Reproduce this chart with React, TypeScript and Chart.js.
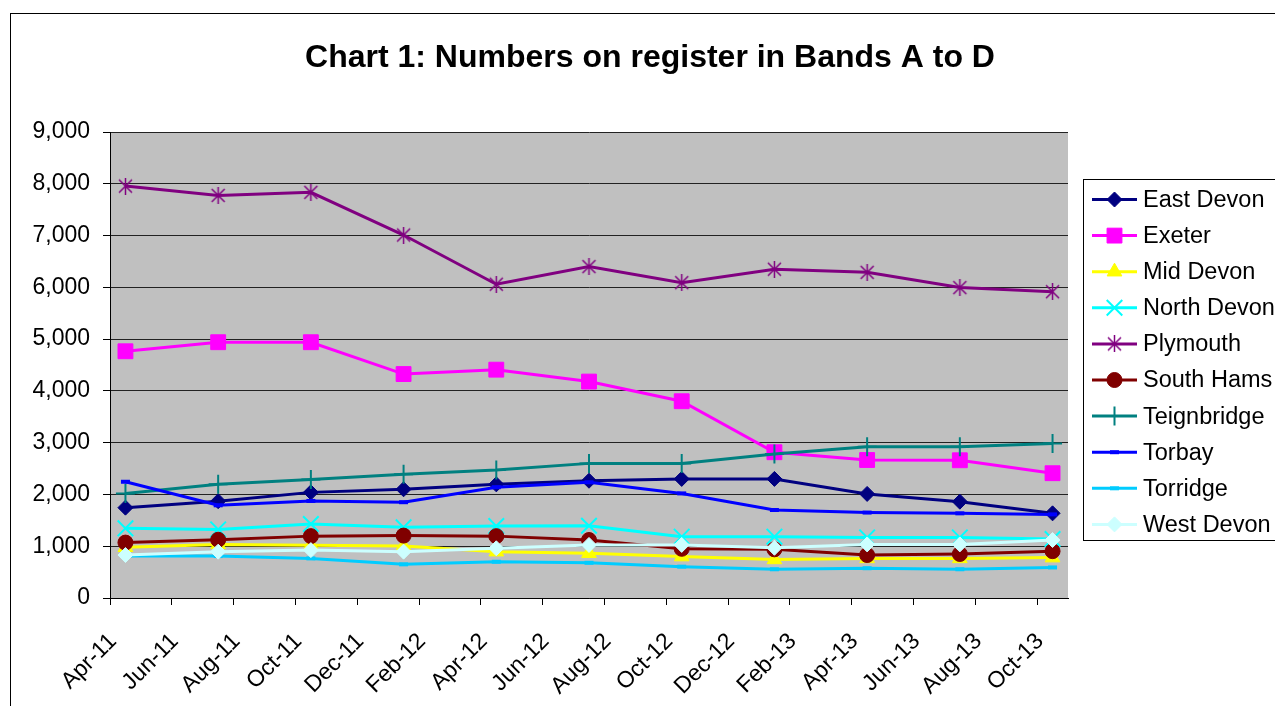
import React, { useEffect, useRef } from 'react';
import { Chart, registerables } from 'chart.js';
import { drawPoint } from 'chart.js/helpers';

Chart.register(...registerables);

// ---- data ----
const chartTitle = 'Chart 1: Numbers on register in Bands A to D';
const periods = ['Apr-11', 'Jul-11', 'Oct-11', 'Jan-12', 'Apr-12', 'Jul-12', 'Oct-12', 'Jan-13', 'Apr-13', 'Jul-13', 'Oct-13'];
const tickLabels = ['Apr-11', 'Jun-11', 'Aug-11', 'Oct-11', 'Dec-11', 'Feb-12', 'Apr-12', 'Jun-12', 'Aug-12', 'Oct-12', 'Dec-12', 'Feb-13', 'Apr-13', 'Jun-13', 'Aug-13', 'Oct-13'];
const seriesNames = ['East Devon', 'Exeter', 'Mid Devon', 'North Devon', 'Plymouth', 'South Hams', 'Teignbridge', 'Torbay', 'Torridge', 'West Devon'];
const eastDevon = [1745, 1870, 2040, 2100, 2195, 2265, 2300, 2300, 2010, 1860, 1635];
const exeter = [4765, 4940, 4940, 4325, 4410, 4180, 3800, 2815, 2665, 2660, 2410];
const midDevon = [980, 1035, 1020, 1005, 895, 865, 800, 745, 765, 765, 780];
const northDevon = [1345, 1325, 1430, 1365, 1390, 1395, 1185, 1185, 1170, 1170, 1140];
const plymouth = [7955, 7775, 7835, 7010, 6060, 6400, 6090, 6350, 6290, 5995, 5915];
const southHams = [1070, 1125, 1195, 1205, 1195, 1120, 950, 940, 830, 850, 905];
const teignbridge = [2020, 2195, 2290, 2390, 2470, 2600, 2600, 2780, 2920, 2920, 2985];
const torbay = [2245, 1790, 1875, 1850, 2140, 2235, 2020, 1700, 1650, 1635, 1615];
const torridge = [810, 810, 765, 650, 700, 680, 605, 555, 575, 555, 590];
const westDevon = [830, 895, 925, 895, 960, 1025, 1025, 970, 1035, 1035, 1120];
const seriesValues = [eastDevon, exeter, midDevon, northDevon, plymouth, southHams, teignbridge, torbay, torridge, westDevon];
const yMax = 9000;
const yStep = 1000;

// ---- styles ----
const FONT = "'Liberation Sans', Arial, sans-serif";
const colors = ['#000080', '#FF00FF', '#FFFF00', '#00FFFF', '#800080', '#800000', '#008080', '#0000FF', '#00CCFF', '#CCFFFF'];
const markerStyles = ['rectRot', 'rect', 'triangle', 'crossRot', 'star6', 'circle', 'cross', 'line', 'line', 'rectRot'];
const markerRadius = [7.5, 10.5, 8.5, 11, 8, 7.5, 9.5, 4.5, 4.5, 7.5];
const markerBorder = [1, 1, 1, 2, 1.5, 1, 2, 4, 4, 1];

const MONTHS = ['Jan', 'Feb', 'Mar', 'Apr', 'May', 'Jun', 'Jul', 'Aug', 'Sep', 'Oct', 'Nov', 'Dec'];
const monthIndex = (label: string) => {
  const [m, y] = label.split('-');
  return (2000 + Number(y) - 2011) * 12 + MONTHS.indexOf(m) - 3;
};
const tickValues = tickLabels.map(monthIndex);
const pointX = periods.map((p) => monthIndex(p) + 0.5);
const xMax = monthIndex(periods[periods.length - 1]) + 1;

function makeStar(color: string) {
  const c = document.createElement('canvas');
  c.width = 17;
  c.height = 17;
  const ctx = c.getContext('2d')!;
  ctx.strokeStyle = color;
  ctx.lineWidth = 1.5;
  ctx.beginPath();
  ctx.moveTo(2, 2); ctx.lineTo(15, 15);
  ctx.moveTo(15, 2); ctx.lineTo(2, 15);
  ctx.moveTo(8.5, 0); ctx.lineTo(8.5, 17);
  ctx.stroke();
  return c;
}

export default function App() {
  const ref = useRef<HTMLCanvasElement>(null);
  useEffect(() => {
    const canvas = ref.current!;
    const star = makeStar(colors[4]);
    const styleFor = (i: number): any => (markerStyles[i] === 'star6' ? star : markerStyles[i]);

    const datasets = seriesNames.map((name, i) => ({
      label: name,
      data: seriesValues[i].map((v, j) => ({ x: pointX[j], y: v })),
      borderColor: colors[i],
      backgroundColor: colors[i],
      borderWidth: 3,
      pointStyle: styleFor(i),
      pointRadius: markerRadius[i],
      pointBorderWidth: markerBorder[i],
      pointBackgroundColor: colors[i],
      pointBorderColor: colors[i],
      pointHoverRadius: markerRadius[i],
      tension: 0,
      order: -i,
    }));

    const decor = {
      id: 'decor',
      beforeDraw(chart: any) {
        const { ctx, chartArea } = chart;
        ctx.save();
        ctx.fillStyle = '#ffffff';
        ctx.fillRect(0, 0, chart.width, chart.height);
        ctx.fillStyle = '#C0C0C0';
        ctx.fillRect(chartArea.left, chartArea.top, chartArea.right - chartArea.left, chartArea.bottom - chartArea.top);
        ctx.restore();
      },
      afterDraw(chart: any) {
        const { ctx } = chart;
        ctx.save();
        // outer border
        ctx.strokeStyle = '#000';
        ctx.lineWidth = 1;
        ctx.strokeRect(10.5, 13.5, 1400, 900);
        // title
        ctx.fillStyle = '#000';
        ctx.font = `bold 32px ${FONT}`;
        ctx.textAlign = 'center';
        ctx.textBaseline = 'alphabetic';
        ctx.fillText(chartTitle, 650, 67);
        // legend
        ctx.strokeStyle = '#000';
        ctx.lineWidth = 1;
        ctx.strokeRect(1083.5, 179.5, 400, 361);
        seriesNames.forEach((name, i) => {
          const y = 199.5 + i * 36.1;
          ctx.strokeStyle = colors[i];
          ctx.lineWidth = 3;
          ctx.beginPath();
          ctx.moveTo(1092, y);
          ctx.lineTo(1137, y);
          ctx.stroke();
          ctx.fillStyle = colors[i];
          ctx.strokeStyle = colors[i];
          ctx.lineWidth = markerBorder[i];
          drawPoint(ctx, { pointStyle: styleFor(i), radius: markerRadius[i], borderWidth: markerBorder[i], rotation: 0 } as any, 1114.5, y);
          ctx.fillStyle = '#000';
          ctx.font = `23.5px ${FONT}`;
          ctx.textAlign = 'left';
          ctx.textBaseline = 'middle';
          ctx.fillText(name, 1143, y + 1);
        });
        ctx.restore();
      },
    };

    const tickFont = { family: FONT, size: 23 };
    const chart = new Chart(canvas, {
      type: 'line',
      data: { datasets } as any,
      options: {
        animation: false,
        responsive: false,
        devicePixelRatio: 1,
        layout: { padding: { left: 0, top: 132, right: 207, bottom: 0 } },
        plugins: { legend: { display: false }, title: { display: false }, tooltip: { enabled: false } },
        events: [],
        scales: {
          x: {
            type: 'linear',
            min: 0,
            max: xMax,
            afterBuildTicks: (s: any) => {
              s.ticks = tickValues.map((v) => ({ value: v }));
            },
            afterFit: (s: any) => {
              s.height = 108;
            },
            grid: { drawOnChartArea: false, drawTicks: true, tickLength: 7, tickColor: '#000', color: '#000' },
            border: { display: true, color: '#000', width: 1 },
            ticks: {
              autoSkip: false,
              minRotation: 45,
              maxRotation: 45,
              padding: 23,
              labelOffset: 3,
              color: '#000',
              font: tickFont,
              callback: (v: any) => {
                const k = tickValues.indexOf(Number(v));
                return k >= 0 ? tickLabels[k] : '';
              },
            },
          },
          y: {
            type: 'linear',
            min: 0,
            max: yMax,
            afterFit: (s: any) => {
              s.width = 110;
            },
            grid: { color: '#222', lineWidth: 1, drawTicks: true, tickLength: 7, tickColor: '#000' },
            border: { display: true, color: '#000', width: 1 },
            ticks: {
              stepSize: yStep,
              padding: 13,
              color: '#000',
              font: tickFont,
              callback: (v: any) => Number(v).toLocaleString('en-US'),
            },
          },
        },
      } as any,
      plugins: [decor],
    });
    return () => chart.destroy();
  }, []);

  return (
    <div style={{ position: 'absolute', left: 0, top: 0, width: 1275, height: 706, overflow: 'hidden' }}>
      <canvas ref={ref} width={1275} height={706} style={{ display: 'block', width: 1275, height: 706 }} />
    </div>
  );
}
